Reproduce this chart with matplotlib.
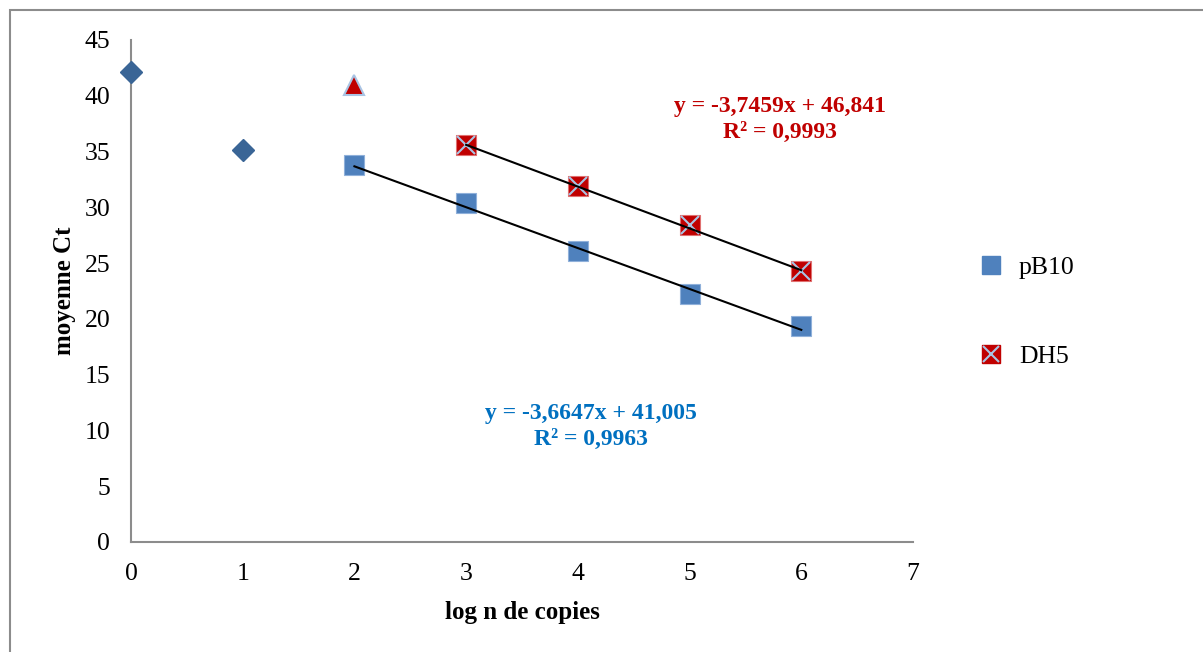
import matplotlib
matplotlib.use("Agg")
import matplotlib.pyplot as plt
from matplotlib.patches import Rectangle
from matplotlib.legend_handler import HandlerTuple
from matplotlib.lines import Line2D
import numpy as np

# data
other_x = [0, 1]
other_y = [42.1, 35.1]
tri_x = [2]
tri_y = [41.0]
pb10_x = [2, 3, 4, 5, 6]
pb10_y = [33.8, 30.4, 26.1, 22.2, 19.4]
dh5_x = [3, 4, 5, 6]
dh5_y = [35.6, 31.9, 28.4, 24.3]
pb10_fit = (-3.6647, 41.005, 0.9963)
dh5_fit = (-3.7459, 46.841, 0.9993)

plt.rcParams["font.family"] = ["Liberation Serif", "DejaVu Serif"]

W, H = 1203, 652
fig = plt.figure(figsize=(W / 100, H / 100), dpi=100)
fig.patches.append(Rectangle((10 / W, -0.1), 1.2, 1 - 10 / H + 0.1, transform=fig.transFigure,
                             fill=False, edgecolor="#8c8c8c", linewidth=1.5))
ax = fig.add_axes([131 / W, 1 - 542 / H, (913 - 131) / W, (542 - 40) / H])

blue = "#4F81BD"
dark = "#3A6596"
red = "#C00000"
light = "#A9C4E4"

ax.plot(other_x, other_y, "D", color=dark, markersize=11, markeredgecolor=dark, clip_on=False, zorder=5)
ax.plot(tri_x, tri_y, "^", color=red, markersize=15, markeredgecolor=light, markeredgewidth=1.5, zorder=5)
ax.plot(pb10_x, pb10_y, "s", color=blue, markersize=14, markeredgecolor="#8FB0DA", markeredgewidth=0.8, zorder=5)
ax.plot(dh5_x, dh5_y, "s", color=red, markersize=14, markeredgecolor="#E07070", markeredgewidth=0.8, zorder=5)
ax.plot(dh5_x, dh5_y, "x", color=light, markersize=13, markeredgewidth=1.5, zorder=6)

for xs, (a, b, _) in ((pb10_x, pb10_fit), (dh5_x, dh5_fit)):
    xx = np.array([xs[0], xs[-1]])
    ax.plot(xx, a * xx + b, color="black", linewidth=1.5, zorder=7)

def eq(a, b):
    return f"y = {a:.4f}x + {b:.3f}".replace(".", ",")

ax.text(5.81, 37.9, eq(*dh5_fit[:2]) + "\n" + f"R² = {dh5_fit[2]:.4f}".replace(".", ","),
        color=red, fontsize=17, fontweight="bold", ha="center", va="center", linespacing=1.3)
ax.text(4.12, 10.35, eq(*pb10_fit[:2]) + "\n" + f"R² = {pb10_fit[2]:.4f}".replace(".", ","),
        color="#0070C0", fontsize=17, fontweight="bold", ha="center", va="center", linespacing=1.3)

ax.set_xlim(0, 7)
ax.set_ylim(0, 45)
ax.set_xticks(range(0, 8))
ax.set_yticks(range(0, 46, 5))
ax.tick_params(length=0, labelsize=18.5)
ax.tick_params(axis="x", pad=15)
ax.tick_params(axis="y", pad=15)
for s in ("top", "right"):
    ax.spines[s].set_visible(False)
for s in ("left", "bottom"):
    ax.spines[s].set_color("#8c8c8c")
    ax.spines[s].set_linewidth(1.5)

ax.set_xlabel("log n de copies", fontsize=18, fontweight="bold", labelpad=12)
ax.set_ylabel("moyenne Ct", fontsize=18, fontweight="bold", labelpad=6)

h1 = Line2D([], [], marker="s", linestyle="none", color=blue, markersize=13)
h2a = Line2D([], [], marker="s", linestyle="none", color=red, markersize=13)
h2b = Line2D([], [], marker="x", linestyle="none", color=light, markersize=12, markeredgewidth=1.5)
fig.legend([h1, (h2a, h2b)], ["pB10", "DH5"], handler_map={tuple: HandlerTuple(ndivide=1, pad=0)},
           loc="center left", bbox_to_anchor=(952 / W, 1 - 312 / H), frameon=False,
           fontsize=18.5, labelspacing=2.6, handlelength=1.2, handletextpad=0.5)

fig.savefig("out.png", dpi=100)
